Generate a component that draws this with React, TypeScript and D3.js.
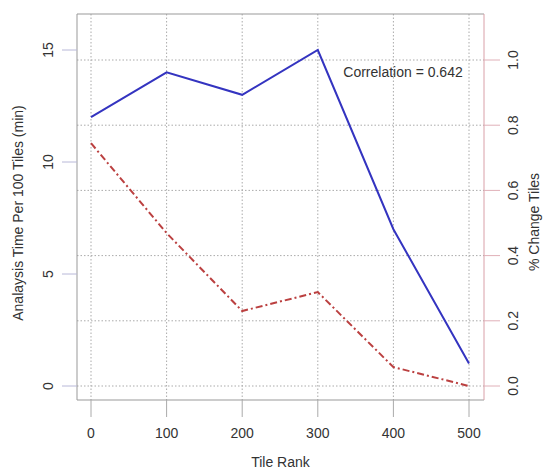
import React from "react";
import * as d3 from "d3";

const tileRank = [0, 100, 200, 300, 400, 500];
const analysisTime = [12, 14, 13, 15, 7, 1];
const pctChange = [0.745, 0.469, 0.23, 0.288, 0.058, 0.0];
const xTicks = [0, 100, 200, 300, 400, 500];
const leftTicks = [0, 5, 10, 15];
const rightTicks = [0, 0.2, 0.4, 0.6, 0.8, 1.0];
const annotation = "Correlation = 0.642";

const W = 547;
const H = 470;
const box = { l: 77, r: 484, t: 14, b: 400 };

export default function App() {
  const x = d3.scaleLinear().domain([0, 500]).range([91, 469]);
  const yL = d3.scaleLinear().domain([0, 15]).range([386, 50]);
  const yR = d3.scaleLinear().domain([0, 1]).range([386, 60]);

  const blueLine = d3
    .line<number>()
    .x((_, i) => x(tileRank[i]))
    .y((d) => yL(d))(analysisTime);
  const redLine = d3
    .line<number>()
    .x((_, i) => x(tileRank[i]))
    .y((d) => yR(d))(pctChange);

  const font = "'Liberation Sans', Arial, Helvetica, sans-serif";
  const txt = "#333";

  return (
    <svg
      width={W}
      height={H}
      style={{ position: "absolute", left: 0, top: 0, background: "#fff" }}
      fontFamily={font}
    >
      {/* grid */}
      <g stroke="#aaa" strokeWidth={1} strokeDasharray="1.5,2">
        {xTicks.map((t) => (
          <line key={"vx" + t} x1={x(t)} x2={x(t)} y1={box.t} y2={box.b} />
        ))}
        {rightTicks.map((t) => (
          <line key={"hy" + t} x1={box.l} x2={box.r} y1={yR(t)} y2={yR(t)} />
        ))}
      </g>

      {/* box */}
      <line x1={box.l} x2={box.r} y1={box.t} y2={box.t} stroke="#999" />
      <line x1={box.l} x2={box.r} y1={box.b} y2={box.b} stroke="#999" />
      <line x1={box.l} x2={box.l} y1={box.t} y2={box.b} stroke="#999" />
      <line x1={box.r} x2={box.r} y1={box.t} y2={box.b} stroke="#d9a0a8" />

      {/* x axis */}
      {xTicks.map((t) => (
        <g key={"xt" + t}>
          <line x1={x(t)} x2={x(t)} y1={box.b} y2={box.b + 17} stroke="#aaa" />
          <text x={x(t)} y={438} fontSize={14} textAnchor="middle" fill={txt}>
            {t}
          </text>
        </g>
      ))}
      <text x={(box.l + box.r) / 2} y={467} fontSize={14} textAnchor="middle" fill={txt}>
        Tile Rank
      </text>

      {/* left axis */}
      {leftTicks.map((t) => (
        <g key={"yl" + t}>
          <line x1={box.l - 15} x2={box.l} y1={yL(t)} y2={yL(t)} stroke="#b8b8d8" />
          <text
            transform={`translate(${53},${yL(t)}) rotate(-90)`}
            fontSize={14}
            textAnchor="middle"
            fill={txt}
          >
            {t}
          </text>
        </g>
      ))}
      <text
        transform={`translate(${23},${213}) rotate(-90)`}
        fontSize={14}
        textAnchor="middle"
        fill={txt}
      >
        Analaysis Time Per 100 Tiles (min)
      </text>

      {/* right axis */}
      {rightTicks.map((t) => (
        <g key={"yr" + t}>
          <line x1={box.r} x2={box.r + 16} y1={yR(t)} y2={yR(t)} stroke="#e0b0b8" />
          <text
            transform={`translate(${518},${yR(t)}) rotate(-90)`}
            fontSize={14}
            textAnchor="middle"
            fill={txt}
          >
            {t.toFixed(1)}
          </text>
        </g>
      ))}
      <text
        transform={`translate(${539},${222}) rotate(-90)`}
        fontSize={14}
        textAnchor="middle"
        fill={txt}
      >
        % Change Tiles
      </text>

      {/* lines */}
      <path d={redLine ?? ""} fill="none" stroke="#bb4040" strokeWidth={2} strokeDasharray="7,3,2,3" />
      <path d={blueLine ?? ""} fill="none" stroke="#3434c0" strokeWidth={2} />

      <text x={403} y={77} fontSize={14} textAnchor="middle" fill={txt}>
        {annotation}
      </text>
    </svg>
  );
}
